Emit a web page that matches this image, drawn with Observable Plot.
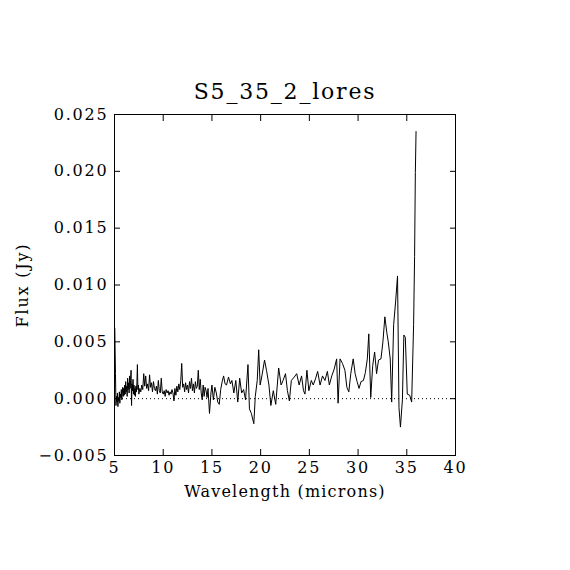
<!DOCTYPE html>
<html>
<head>
<meta charset="utf-8">
<script src="https://cdn.jsdelivr.net/npm/d3@7"></script>
<script src="https://cdn.jsdelivr.net/npm/@observablehq/plot@0.6"></script>
<style>
  html, body { margin: 0; padding: 0; background: #fff; }
</style>
</head>
<body>
<div id="chart"></div>
<script>
const title = "S5_35_2_lores";
const xLabel = "Wavelength (microns)";
const yLabel = "Flux (Jy)";
const xTicks = [5, 10, 15, 20, 25, 30, 35, 40];
const yTicks = [-0.005, 0.000, 0.005, 0.010, 0.015, 0.020, 0.025];

const wavelength = [
  5.03, 5.10, 5.15, 5.20, 5.25, 5.30, 5.35, 5.40, 5.45, 5.50, 5.55, 5.60, 5.65, 5.70, 5.75, 5.80, 5.85, 5.90, 5.95, 6.00,
  6.05, 6.10, 6.15, 6.20, 6.25, 6.30, 6.35, 6.40, 6.45, 6.50, 6.55, 6.60, 6.65, 6.70, 6.75, 6.80, 6.85, 6.90, 6.95, 7.00,
  7.05, 7.10, 7.15, 7.20, 7.25, 7.30, 7.35, 7.40, 7.45, 7.50, 7.60, 7.70, 7.80, 7.90, 8.00, 8.10, 8.20, 8.30, 8.40, 8.50,
  8.60, 8.70, 8.80, 8.90, 9.00, 9.10, 9.20, 9.30, 9.40, 9.50, 9.60, 9.70, 9.80, 9.90, 10.00, 10.10, 10.20, 10.30, 10.40, 10.50,
  10.60, 10.70, 10.80, 10.90, 11.00, 11.10, 11.20, 11.30, 11.40, 11.50, 11.60, 11.70, 11.80, 11.90, 12.00, 12.10, 12.20, 12.30, 12.40, 12.50,
  12.60, 12.70, 12.80, 12.90, 13.00, 13.10, 13.20, 13.30, 13.40, 13.50, 13.60, 13.70, 13.80, 13.90, 14.00, 14.10, 14.20, 14.30, 14.40, 14.50,
  14.60, 14.75, 14.90, 15.00, 15.15, 15.30, 15.45, 15.60, 15.75, 15.90, 16.05, 16.20, 16.35, 16.50, 16.70, 16.90, 17.05, 17.25, 17.45, 17.65,
  17.85, 18.05, 18.25, 18.45, 18.70, 18.85, 19.05, 19.30, 19.45, 19.65, 19.80, 19.95, 20.15, 20.40, 20.60, 20.85, 21.05, 21.30, 21.55, 21.85,
  22.10, 22.30, 22.55, 22.75, 22.95, 23.15, 23.45, 23.70, 23.95, 24.20, 24.40, 24.55, 24.75, 24.95, 25.20, 25.40, 25.65, 25.85, 26.10, 26.35,
  26.60, 26.85, 27.05, 27.30, 27.55, 27.80, 27.95, 28.15, 28.40, 28.65, 28.85, 29.05, 29.25, 29.50, 29.70, 29.90, 30.10, 30.30, 30.55, 30.75,
  30.95, 31.10, 31.30, 31.50, 31.70, 31.90, 32.10, 32.35, 32.55, 32.75, 32.95, 33.10, 33.30, 33.45, 33.65, 33.85, 34.05, 34.20, 34.35, 34.55,
  34.70, 34.85, 35.05, 35.30, 35.50, 35.70, 35.80, 35.88, 35.95
];
const flux = [
  0.0062, 0.0022, -0.0006, 0.0002, -0.0003, 0.0005, -0.0007, 0.0001, -0.0002, 0.0006, -0.0004, 0.0004, 0.0001, 0.0008, -0.0001, 0.0005, 0.0010, 0.0002, 0.0009, 0.0003,
  0.0012, 0.0004, 0.0015, 0.0006, 0.0011, 0.0002, 0.0018, 0.0008, 0.0014, 0.0005, 0.0020, 0.0009, 0.0016, 0.0025, -0.0006, 0.0013, 0.0007, 0.0017, 0.0004, 0.0012,
  0.0003, 0.0009, 0.0002, 0.0011, 0.0006, 0.0014, 0.0030, 0.0008, 0.0012, 0.0004, 0.0009, 0.0006, 0.0012, 0.0008, 0.0022, 0.0011, 0.0020, 0.0009, 0.0013, 0.0007,
  0.0021, 0.0010, 0.0014, 0.0006, 0.0015, 0.0009, 0.0007, 0.0011, 0.0004, 0.0016, 0.0007, 0.0005, 0.0018, 0.0006, 0.0004, 0.0007, 0.0002, 0.0008, 0.0005, 0.0007,
  0.0003, 0.0006, 0.0004, 0.0008, 0.0005, -0.0002, 0.0009, 0.0003, 0.0011, 0.0006, 0.0013, 0.0008, 0.0016, 0.0031, 0.0010, 0.0013, 0.0006, 0.0014, 0.0008, 0.0012,
  0.0005, 0.0015, 0.0009, 0.0018, 0.0007, 0.0013, 0.0005, 0.0015, 0.0009, 0.0011, 0.0025, 0.0008, 0.0017, 0.0005, -0.0001, 0.0012, 0.0002, 0.0010, 0.0007, 0.0001,
  0.0009, -0.0013, 0.0005, 0.0012, -0.0001, 0.0010, 0.0005, -0.0003, -0.0005, 0.0008, 0.0015, 0.0020, 0.0013, 0.0012, 0.0019, 0.0013, 0.0016, 0.0005, 0.0016, -0.0003,
  0.0018, 0.0005, 0.0008, -0.0001, 0.0030, -0.0009, -0.0013, -0.0022, 0.0002, 0.0016, 0.0043, 0.0012, 0.0021, 0.0034, 0.0025, 0.0012, -0.0006, 0.0007, -0.0005, 0.0027,
  0.0012, 0.0016, 0.0022, 0.0007, -0.0002, 0.0016, 0.0019, 0.0022, 0.0012, 0.0020, 0.0007, 0.0004, 0.0025, 0.0007, 0.0016, 0.0012, 0.0018, 0.0024, 0.0012, 0.0020,
  0.0016, 0.0024, 0.0012, 0.0020, 0.0026, 0.0035, -0.0004, 0.0035, 0.0031, 0.0025, 0.0010, 0.0006, 0.0022, 0.0035, 0.0022, 0.0015, 0.0009, 0.0015, 0.0016, 0.0023,
  0.0035, 0.0057, 0.0001, 0.0029, 0.0041, 0.0022, 0.0034, 0.0035, 0.0050, 0.0072, 0.0058, 0.0050, 0.0035, -0.0003, 0.0065, 0.0085, 0.0108, -0.0008, -0.0025, -0.0001,
  0.0056, 0.0054, 0.0004, 0.0003, -0.0003, 0.0065, 0.0125, 0.0199, 0.0235
];

const data = wavelength.map((w, i) => ({w, f: flux[i]}));

const chart = Plot.plot({
  width: 570,
  height: 570,
  marginLeft: 114,
  marginRight: 115,
  marginTop: 114,
  marginBottom: 115,
  style: {fontFamily: "DejaVu Serif", fontSize: "16px", color: "#000", background: "#fff", letterSpacing: "1.8px"},
  x: {domain: [5, 40]},
  y: {domain: [-0.005, 0.025]},
  marks: [
    Plot.frame({stroke: "#000"}),
    Plot.axisX({anchor: "bottom", ticks: xTicks, tickSize: -6, tickPadding: 12, tickFormat: d3.format("d"),
      label: null, fontSize: 16}),
    Plot.axisX({anchor: "top", ticks: xTicks, tickSize: -6, tickFormat: () => "", label: null}),
    Plot.axisY({anchor: "left", ticks: yTicks, tickSize: -6, tickPadding: 12, tickFormat: d3.format(".3f"),
      label: null, fontSize: 16}),
    Plot.axisY({anchor: "right", ticks: yTicks, tickSize: -6, tickFormat: () => "", label: null}),
    Plot.ruleY([0], {stroke: "#000", strokeDasharray: "1,3"}),
    Plot.line(data, {x: "w", y: "f", stroke: "#000", strokeWidth: 1}),
    Plot.text([title], {frameAnchor: "top", dy: -31, fontSize: 22, text: d => d}),
    Plot.text([xLabel], {frameAnchor: "bottom", dy: 41, fontSize: 16, text: d => d}),
    Plot.text([yLabel], {frameAnchor: "left", textAnchor: "middle", dx: -92, rotate: -90, fontSize: 16, text: d => d})
  ]
});
d3.select(chart).selectAll("text").filter(function() { return this.textContent === xLabel; })
  .attr("letter-spacing", "1.2px");
document.getElementById("chart").appendChild(chart);
</script>
</body>
</html>
